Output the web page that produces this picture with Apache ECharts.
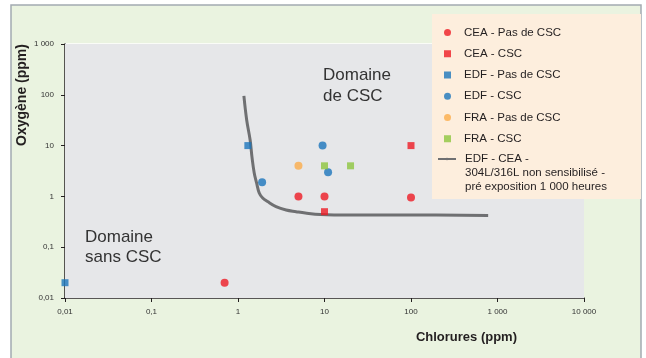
<!DOCTYPE html>
<html><head><meta charset="utf-8">
<script src="https://cdn.jsdelivr.net/npm/echarts@6/dist/echarts.min.js"></script>
<style>html,body{margin:0;padding:0;background:#fff}#c{width:646px;height:358px}</style>
</head><body><div id="c"></div>
<script>
const xTicks = [0.01, 0.1, 1, 10, 100, 1000, 10000];
const xTickLabels = ['0,01', '0,1', '1', '10', '100', '1 000', '10 000'];
const yTicks = [0.01, 0.1, 1, 10, 100, 1000];
const yTickLabels = ['0,01', '0,1', '1', '10', '100', '1 000'];

const ceaPasCSC = [[0.7, 0.02], [5, 1], [10, 1], [100, 0.95]];
const ceaCSC = [[100, 10], [10, 0.5]];
const edfPasCSC = [[0.01, 0.02], [1.3, 10]];
const edfCSC = [[1.9, 1.9], [9.5, 10], [11, 3]];
const fraPasCSC = [[5, 4]];
const fraCSC = [[10, 4], [20, 4]];
const curveEdfCea = [[1.17, 95], [1.26, 32], [1.38, 13], [1.45, 6], [1.54, 2.9], [1.64, 1.85], [1.76, 1.17],
  [1.93, 0.93], [2.2, 0.79], [2.75, 0.63], [3.6, 0.54], [4.7, 0.5], [6, 0.47], [9, 0.44], [20, 0.43], [100, 0.43], [780, 0.42]];

const names = ['CEA - Pas de CSC', 'CEA - CSC', 'EDF - Pas de CSC', 'EDF - CSC', 'FRA - Pas de CSC', 'FRA - CSC'];
const curveName = 'EDF - CEA -\n304L/316L non sensibilisé -\npré exposition 1 000 heures';

function fmt(ticks, labels) {
  return function (v) {
    const i = ticks.findIndex(t => Math.abs(Math.log10(t) - Math.log10(v)) < 1e-6);
    return i >= 0 ? labels[i] : '';
  };
}

const RED = '#ed1c24', BLUE = '#1c75bc', ORANGE = '#fbad4a', GREEN = '#8dc63f';
function sc(name, data, symbol, color) {
  return { name, type: 'scatter', data, symbol, symbolSize: symbol === 'rect' ? 7 : 8, clip: false,
    itemStyle: { color }, z: 2 };
}

const chart = echarts.init(document.getElementById('c'), null, { renderer: 'canvas' });
chart.setOption({
  backgroundColor: '#ffffff',
  animation: false,
  textStyle: { fontFamily: 'Liberation Sans, Arial, sans-serif' },
  grid: { left: 65, right: 62, top: 44, bottom: 60, show: true, backgroundColor: '#e6e7e9', borderWidth: 0, z: 1 },
  xAxis: {
    type: 'log', logBase: 10, min: 0.01, max: 10000, interval: 1,
    axisLine: { lineStyle: { color: '#231f20', width: 1.5 } },
    axisTick: { show: true, length: 4, lineStyle: { color: '#231f20', width: 1 } },
    axisLabel: { formatter: fmt(xTicks, xTickLabels), fontSize: 8, color: '#333', margin: 10 },
    splitLine: { show: false }, minorTick: { show: false }
  },
  yAxis: {
    type: 'log', logBase: 10, min: 0.01, max: 1000, interval: 1,
    axisLine: { show: true, lineStyle: { color: '#231f20', width: 1.5 } },
    axisTick: { show: true, length: 4, lineStyle: { color: '#231f20', width: 1 } },
    axisLabel: { formatter: fmt(yTicks, yTickLabels), fontSize: 8, color: '#333', margin: 11 },
    splitLine: { show: true, lineStyle: { color: '#ffffff', width: 1.5 } }
  },
  legend: [
    { data: names, orient: 'vertical', left: 444, top: 26, padding: 0, itemWidth: 7, itemHeight: 7, itemGap: 8.25,
      selectedMode: false,
      textStyle: { fontSize: 11.5, color: '#231f20', lineHeight: 13, padding: [0, 0, 0, 8] }, z: 5 },
    { data: [curveName], orient: 'vertical', left: 437, top: 124, padding: 0, itemWidth: 18, itemHeight: 3,
      selectedMode: false, formatter: function (n) { return '\n\n' + n; },
      textStyle: { fontSize: 11.5, color: '#231f20', lineHeight: 14, padding: [0, 0, 0, 4] }, z: 5 }
  ],
  graphic: [
    { type: 'rect', z: -10, shape: { x: 11, y: 5, width: 630, height: 370 },
      style: { fill: '#eaf3e0', stroke: '#a3aab1', lineWidth: 1.5 } },
    { type: 'rect', z: 3, shape: { x: 432, y: 14, width: 209, height: 185 }, style: { fill: '#fdeedd' } },
    { type: 'text', z: 5, x: 323, y: 86, style: { text: 'Domaine\nde CSC', fontSize: 17, lineHeight: 21,
      fill: '#333', verticalAlign: 'middle', font: '17px Liberation Sans' } },
    { type: 'text', z: 5, x: 85, y: 247, style: { text: 'Domaine\nsans CSC', fontSize: 17, lineHeight: 20,
      fill: '#333', verticalAlign: 'middle', font: '17px Liberation Sans' } },
    { type: 'text', z: 5, x: 22, y: 95, rotation: Math.PI / 2, style: { text: 'Oxygène (ppm)',
      font: 'bold 14px Liberation Sans', fill: '#231f20', align: 'center', verticalAlign: 'middle' } },
    { type: 'text', z: 5, x: 517, y: 337, style: { text: 'Chlorures (ppm)',
      font: 'bold 13px Liberation Sans', fill: '#231f20', align: 'right', verticalAlign: 'middle' } }
  ],
  series: [
    sc(names[0], ceaPasCSC, 'circle', RED),
    sc(names[1], ceaCSC, 'rect', RED),
    sc(names[2], edfPasCSC, 'rect', BLUE),
    sc(names[3], edfCSC, 'circle', BLUE),
    sc(names[4], fraPasCSC, 'circle', ORANGE),
    sc(names[5], fraCSC, 'rect', GREEN),
    { name: curveName, type: 'line', data: curveEdfCea, smooth: 0.4, symbol: 'none', showSymbol: false,
      lineStyle: { color: '#6f7072', width: 3 }, itemStyle: { color: '#6f7072' }, z: 2 }
  ]
});
</script></body></html>
